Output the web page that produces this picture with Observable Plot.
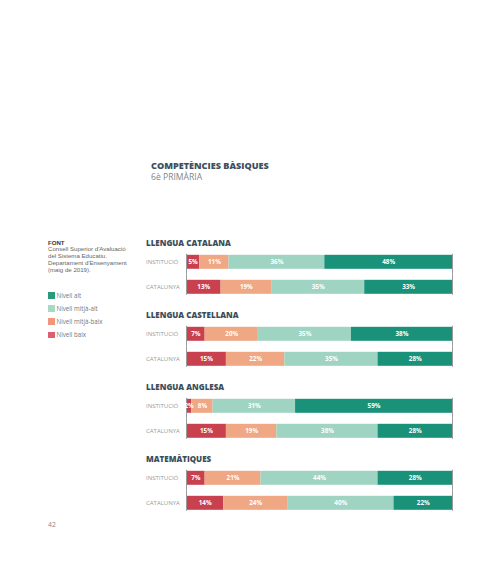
<!DOCTYPE html>
<html>
<head>
<meta charset="utf-8">
<script src="https://cdn.jsdelivr.net/npm/d3@7"></script>
<script src="https://cdn.jsdelivr.net/npm/@observablehq/plot@0.6"></script>
<style>
  html, body { margin: 0; padding: 0; background: #fff; }
  #page { position: relative; width: 500px; height: 564px; font-family: "Open Sans", sans-serif; overflow: hidden; }
  #page svg { position: absolute; left: 0; top: 0; }
  .abs { position: absolute; white-space: nowrap; }
  #title { left: 151px; top: 160px; font-size: 9.1px; font-weight: 800; color: #3d4e5c; line-height: 11px; }
  #subtitle { left: 151px; top: 172.3px; font-size: 8.6px; font-weight: 400; color: #7a858e; line-height: 11px; }
  #source { left: 48px; top: 239.5px; font-family: "Liberation Sans", Arial, sans-serif; font-size: 6.1px; color: #666; }
  #source div { height: 6.9px; line-height: 6.9px; overflow: visible; }
  #source .head { color: #333; font-weight: 700; }
  #legend { left: 48px; top: 289px; font-size: 6.2px; color: #777; }
  #legend .item { display: flex; align-items: center; height: 13.1px; }
  #legend .sw { width: 6.5px; height: 6.5px; margin-right: 2px; }
  #pagenum { left: 48px; top: 520px; font-size: 6.8px; color: #888; }
</style>
</head>
<body>
<div id="page">
  <div id="title" class="abs">COMPETÈNCIES BÀSIQUES</div>
  <div id="subtitle" class="abs">6è PRIMÀRIA</div>
  <div id="source" class="abs">
    <div class="head">FONT</div>
    <div>Consell Superior d'Avaluació</div>
    <div>del Sistema Educatiu.</div>
    <div>Departament d'Ensenyament</div>
    <div>(maig de 2019).</div>
  </div>
  <div id="legend" class="abs"></div>
  <div id="pagenum" class="abs">42</div>
</div>
<script>
const subjects = ["LLENGUA CATALANA", "LLENGUA CASTELLANA", "LLENGUA ANGLESA", "MATEMÀTIQUES"];
const groups = ["INSTITUCIÓ", "CATALUNYA"];
const levels = ["Nivell baix", "Nivell mitjà-baix", "Nivell mitjà-alt", "Nivell alt"];
const institucio = [
  [5, 11, 36, 48],
  [7, 20, 35, 38],
  [2, 8, 31, 59],
  [7, 21, 44, 28]
];
const catalunya = [
  [13, 19, 35, 33],
  [15, 22, 35, 28],
  [15, 19, 38, 28],
  [14, 24, 40, 22]
];
const barColors = ["#c9414f", "#efa784", "#9fd4c3", "#1a927a"];
const legendColors = ["#dc5f72", "#f1957d", "#a6dac7", "#2a9a7d"];
const legendOrder = ["Nivell alt", "Nivell mitjà-alt", "Nivell mitjà-baix", "Nivell baix"];

const rows = [];
subjects.forEach((s, i) => {
  groups.forEach(g => {
    const vals = g === "INSTITUCIÓ" ? institucio[i] : catalunya[i];
    levels.forEach((l, j) => rows.push({subject: s, group: g, level: l, value: vals[j]}));
  });
});

const frameTicks = groups.flatMap(g => [0, 100].map(v => ({group: g, x: v})));

const chart = Plot.plot({
  width: 500,
  height: 564,
  marginTop: 238.2,
  marginBottom: 35.8,
  marginLeft: 186,
  marginRight: 48,
  style: {fontFamily: "Open Sans, sans-serif", background: "transparent"},
  facet: {data: rows, y: "subject"},
  fy: {domain: subjects, axis: null, padding: 0},
  x: {domain: [0, 100], axis: null},
  y: {domain: groups, axis: null, paddingInner: 0.423, paddingOuter: 0.606},
  color: {domain: levels, range: barColors},
  marks: [
    Plot.barX(rows, Plot.stackX({x: "value", y: "group", fill: "level"})),
    Plot.tickX(frameTicks.filter(d => d.group === "INSTITUCIÓ"), {x: "x", y: "group", stroke: "#9a9a9a", strokeWidth: 1, insetTop: -1, insetBottom: -5.5}),
    Plot.tickX(frameTicks.filter(d => d.group === "CATALUNYA"), {x: "x", y: "group", stroke: "#9a9a9a", strokeWidth: 1, insetTop: -5.5, insetBottom: -1}),
    Plot.text(rows, Plot.stackX({x: "value", y: "group", text: d => d.value + "%", fill: "white", fontWeight: 700, fontSize: 6.3})),
    Plot.text(rows, {filter: d => d.level === levels[0], y: "group", text: "group", frameAnchor: "left", textAnchor: "start", dx: -40.5, fontSize: 6, fill: "#949ba1"}),
    Plot.text(rows, {filter: d => d.level === levels[0] && d.group === groups[0], text: "subject", frameAnchor: "top-left", textAnchor: "start", lineAnchor: "middle", dx: -40.5, dy: 4, fontSize: 8, fontWeight: 800, fill: "#3b4d5a"})
  ]
});
document.getElementById("page").prepend(chart);

const legend = document.getElementById("legend");
legendOrder.forEach(l => {
  const item = document.createElement("div");
  item.className = "item";
  const sw = document.createElement("span");
  sw.className = "sw";
  sw.style.background = legendColors[levels.indexOf(l)];
  const t = document.createElement("span");
  t.textContent = l;
  item.append(sw, t);
  legend.append(item);
});
</script>
</body>
</html>
